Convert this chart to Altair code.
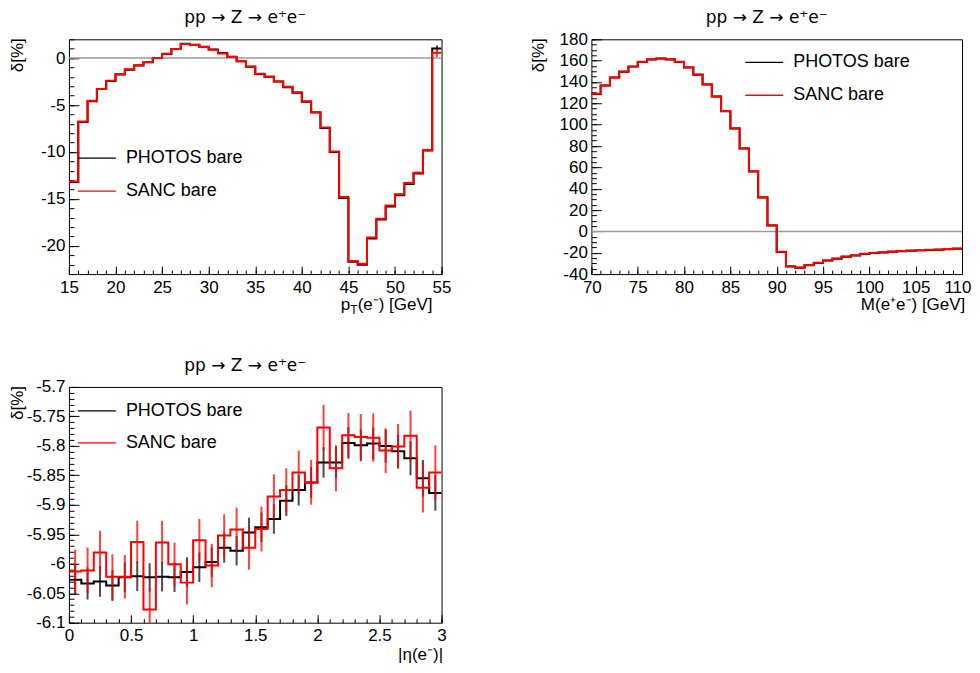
import altair as alt
import pandas as pd

FONT = "Liberation Sans"

# ---------------- data ----------------
# p_T(e-) panel: 40 bins of 1 GeV from 15 to 55
pt_lo, pt_w = 15.0, 1.0
pt_photos = [-13.2, -6.8, -4.6, -3.3, -2.45, -1.75, -1.25, -0.8, -0.45, 0.0,
             0.43, 0.96, 1.52, 1.42, 1.2, 0.92, 0.53, 0.14, -0.35, -0.92,
             -1.7, -2.0, -2.5, -3.1, -3.7, -4.65, -5.8, -7.45, -10.0, -14.9,
             -21.7, -22.0, -19.2, -17.2, -15.8, -14.6, -13.4, -12.3, -9.85, 1.03]
pt_sanc = [-13.15, -6.75, -4.55, -3.3, -2.4, -1.7, -1.2, -0.75, -0.42, 0.02,
           0.45, 0.98, 1.5, 1.4, 1.18, 0.9, 0.5, 0.12, -0.33, -0.9,
           -1.68, -1.98, -2.48, -3.05, -3.65, -4.6, -5.75, -7.4, -9.95, -14.8,
           -21.6, -21.9, -19.1, -17.1, -15.7, -14.5, -13.3, -12.2, -9.8, 0.57]
pt_photos_err = [0] * 39 + [0.3]
pt_sanc_err = [0] * 35 + [0.1, 0.12, 0.14, 0.18, 0.45]

# M(e+e-) panel: 40 bins of 1 GeV from 70 to 110
m_lo, m_w = 70.0, 1.0
m_photos = [128.8, 136.6, 144.1, 149.7, 154.4, 158.8, 161.0, 161.9, 161.0, 158.8,
            153.5, 146.9, 137.6, 126.3, 112.6, 96.4, 77.7, 56.1, 31.8, 5.6,
            -19.3, -32.8, -34.0, -31.8, -29.6, -27.4, -25.6, -23.7, -22.5, -21.2,
            -20.3, -19.7, -19.0, -18.7, -18.1, -17.8, -17.5, -17.2, -16.8, -16.2]
m_sanc = [129.0, 136.8, 144.3, 149.9, 154.6, 159.0, 161.2, 162.1, 161.2, 159.0,
          153.7, 147.1, 137.8, 126.5, 112.8, 96.6, 77.9, 56.3, 32.0, 5.8,
          -19.1, -32.6, -33.8, -31.6, -29.4, -27.2, -25.4, -23.5, -22.3, -21.0,
          -20.1, -19.5, -18.8, -18.5, -17.9, -17.6, -17.3, -17.0, -16.6, -16.0]

# |eta(e-)| panel: 30 bins of 0.1 from 0 to 3
eta_lo, eta_w = 0.0, 0.1
eta_photos = [-6.027, -6.0335, -6.030, -6.037, -6.023, -6.021, -6.023, -6.022, -6.023, -6.014,
              -6.006, -5.997, -5.973, -5.978, -5.947, -5.938, -5.924, -5.893, -5.875, -5.862,
              -5.828, -5.828, -5.795, -5.799, -5.796, -5.800, -5.809, -5.821, -5.855, -5.880]
eta_sanc = [-6.013, -6.0115, -5.981, -6.022, -6.022, -5.963, -6.0775, -5.964, -6.001, -6.032,
            -5.960, -6.003, -5.952, -5.942, -5.973, -5.941, -5.886, -5.875, -5.845, -5.862,
            -5.769, -5.838, -5.782, -5.785, -5.786, -5.808, -5.801, -5.783, -5.871, -5.845]
eta_photos_err = [0.026, 0.027, 0.026, 0.026, 0.025, 0.025, 0.024, 0.025, 0.025, 0.025,
                  0.025, 0.025, 0.025, 0.025, 0.025, 0.025, 0.025, 0.026, 0.026, 0.026,
                  0.026, 0.027, 0.027, 0.027, 0.027, 0.028, 0.028, 0.029, 0.031, 0.030]
eta_sanc_err = [0.037, 0.039, 0.037, 0.038, 0.037, 0.036, 0.037, 0.037, 0.037, 0.037,
                0.036, 0.037, 0.036, 0.037, 0.037, 0.038, 0.038, 0.037, 0.037, 0.038,
                0.039, 0.039, 0.038, 0.039, 0.041, 0.038, 0.038, 0.043, 0.042, 0.046]

series_names = ["PHOTOS bare", "SANC bare"]
series_colors = ["black", "red"]
title_text = "pp → Z → e⁺e⁻"
ytitle_text = "δ[%]"

# axis ticks / labels
pt_xmaj = [15, 20, 25, 30, 35, 40, 45, 50, 55]
pt_xmin = list(range(15, 56))
pt_ymaj = [0, -5, -10, -15, -20]
pt_ymin = list(range(-23, 3))
m_xmaj = [70, 75, 80, 85, 90, 95, 100, 105, 110]
m_xmin = list(range(70, 111))
m_ymaj = list(range(-40, 181, 20))
m_ymin = list(range(-40, 181, 5))
eta_xmaj = [0, 0.5, 1, 1.5, 2, 2.5, 3]
eta_xmin = [round(0.1 * i, 2) for i in range(31)]
eta_ymaj = [-6.1, -6.05, -6.0, -5.95, -5.9, -5.85, -5.8, -5.75, -5.7]
eta_ymin = [round(-6.1 + 0.01 * i, 3) for i in range(41)]


def hist_df(lo, w, vals):
    xs = [lo + i * w for i in range(len(vals) + 1)]
    ys = list(vals) + [vals[-1]]
    return pd.DataFrame({"x": xs, "y": ys})


def err_df(lo, w, vals, errs):
    rows = [{"x": lo + (i + 0.5) * w, "lo": v - e, "hi": v + e}
            for i, (v, e) in enumerate(zip(vals, errs)) if e > 0]
    return pd.DataFrame(rows, columns=["x", "lo", "hi"])


def panel(W, H, lo, w, photos, sanc, perr, serr, xdom, ydom,
          xmaj, xmin, ymaj, ymin, zero, leg, xtitle, ytitle_x, xflush=None):
    xs = alt.Scale(domain=xdom, nice=False, zero=False)
    ys = alt.Scale(domain=ydom, nice=False, zero=False)
    hp = hist_df(lo, w, photos)
    hs = hist_df(lo, w, sanc)
    layers = []

    # inward minor ticks
    layers.append(alt.Chart(hp).mark_point(opacity=0).encode(
        x=alt.X("x:Q", scale=xs, axis=alt.Axis(
            orient="top", offset=-H, values=xmin, labels=False, domain=False,
            grid=False, title=None, tickSize=4, tickColor="black", tickWidth=1)),
        y=alt.Y("y:Q", scale=ys, axis=alt.Axis(
            orient="right", offset=-W, values=ymin, labels=False, domain=False,
            grid=False, title=None, tickSize=5, tickColor="black", tickWidth=1)),
    ))
    # inward major ticks
    layers.append(alt.Chart(hp).mark_point(opacity=0).encode(
        x=alt.X("x:Q", scale=xs, axis=alt.Axis(
            orient="top", offset=-H, values=xmaj, labels=False, domain=False,
            grid=False, title=None, tickSize=8, tickColor="black", tickWidth=1)),
        y=alt.Y("y:Q", scale=ys, axis=alt.Axis(
            orient="right", offset=-W, values=ymaj, labels=False, domain=False,
            grid=False, title=None, tickSize=10, tickColor="black", tickWidth=1)),
    ))

    if zero:
        layers.append(alt.Chart(pd.DataFrame({"y": [0]})).mark_rule(
            color="#9a9a9a", strokeWidth=1.5).encode(
            y=alt.Y("y:Q", scale=ys, axis=None)))

    # PHOTOS histogram (carries the labelled axes)
    if xflush is None:
        flush_kw = dict(labelFlush=False)
    else:
        flush_kw = dict(labelFlush=True, labelFlushOffset=xflush)
    layers.append(alt.Chart(hp).mark_line(
        interpolate="step-after", color=series_colors[0], strokeWidth=2, clip=True).encode(
        x=alt.X("x:Q", scale=xs, axis=alt.Axis(
            orient="bottom", values=xmaj, ticks=False, tickSize=0, domain=False,
            grid=False, title=None, labelPadding=5,
            labelOverlap=False, labelExpr="toString(datum.value)", **flush_kw)),
        y=alt.Y("y:Q", scale=ys, axis=alt.Axis(
            orient="left", values=ymaj, ticks=False, tickSize=0, domain=False,
            grid=False, title=None, labelPadding=4, labelFlush=False,
            labelOverlap=False, labelExpr="toString(datum.value)")),
    ))
    ep = err_df(lo, w, photos, perr)
    if len(ep):
        layers.append(alt.Chart(ep).mark_rule(
            color=series_colors[0], strokeWidth=2, opacity=0.7, clip=True).encode(
            x=alt.X("x:Q", scale=xs, axis=None),
            y=alt.Y("lo:Q", scale=ys, axis=None), y2="hi:Q"))

    layers.append(alt.Chart(hs).mark_line(
        interpolate="step-after", color=series_colors[1], strokeWidth=2, clip=True).encode(
        x=alt.X("x:Q", scale=xs, axis=None),
        y=alt.Y("y:Q", scale=ys, axis=None)))
    es = err_df(lo, w, sanc, serr)
    if len(es):
        layers.append(alt.Chart(es).mark_rule(
            color=series_colors[1], strokeWidth=2, opacity=0.75, clip=True).encode(
            x=alt.X("x:Q", scale=xs, axis=None),
            y=alt.Y("lo:Q", scale=ys, axis=None), y2="hi:Q"))

    # legend
    lx0, lx1, tx, ly, dy = leg
    dummy = pd.DataFrame({"a": [0]})
    for i, (name, col) in enumerate(zip(series_names, series_colors)):
        layers.append(alt.Chart(dummy).mark_rule(color=col, strokeWidth=1.3).encode(
            x=alt.value(lx0), x2=alt.value(lx1), y=alt.value(ly + i * dy)))
        layers.append(alt.Chart(dummy).mark_text(
            align="left", baseline="middle", fontSize=18, color="black").encode(
            x=alt.value(tx), y=alt.value(ly + i * dy), text=alt.value(name)))

    # panel title
    layers.append(alt.Chart(dummy).mark_text(
        align="center", baseline="alphabetic", fontSize=17, font="DejaVu Sans",
        color="black").encode(
        x=alt.value(W / 2 - 10), y=alt.value(-16), text=alt.value(title_text)))
    # y title
    layers.append(alt.Chart(dummy).mark_text(
        align="right", baseline="middle", angle=270, fontSize=17, color="black").encode(
        x=alt.value(ytitle_x), y=alt.value(-1), text=alt.value(ytitle_text)))
    # x title pieces
    for (txt, xx, yy, fs, al) in xtitle:
        layers.append(alt.Chart(dummy).mark_text(
            align=al, baseline="alphabetic", fontSize=fs, color="black").encode(
            x=alt.value(xx), y=alt.value(H + yy), text=alt.value(txt)))

    return alt.layer(*layers).properties(width=W, height=H)


p1 = panel(373, 235, pt_lo, pt_w, pt_photos, pt_sanc, pt_photos_err, pt_sanc_err,
           [15, 55], [-23, 2], pt_xmaj, pt_xmin, pt_ymaj, pt_ymin, True,
           (9, 47, 57, 119, 33),
           [("p", 272, 36, 17, "left"), ("T", 281.5, 40, 12, "left"),
            ("(e⁻) [GeV]", 289, 36, 17, "left")], -51)
p2 = panel(371, 235, m_lo, m_w, m_photos, m_sanc, [0] * 40, [0] * 40,
           [70, 110], [-40, 180], m_xmaj, m_xmin, m_ymaj, m_ymin, True,
           (154, 192, 202, 23, 33),
           [("M(e⁺e⁻) [GeV]", 322, 36, 17, "center")], -52, xflush=9)
p3 = panel(373, 236, eta_lo, eta_w, eta_photos, eta_sanc, eta_photos_err, eta_sanc_err,
           [0, 3], [-6.1, -5.7], eta_xmaj, eta_xmin, eta_ymaj, eta_ymin, False,
           (9, 47, 57, 24, 32),
           [("|η(e⁻)|", 352, 37, 17, "center")], -51)

chart = alt.concat(p1, p2, p3, columns=2, spacing={"row": 113, "column": 150},
                   bounds="flush").properties(
    padding={"left": 0, "top": 0, "right": 0, "bottom": 0}
).configure(font=FONT).configure_view(
    stroke="black", strokeWidth=1
).configure_axis(
    labelFont=FONT, labelFontSize=17, labelColor="black"
)

chart.save("out.html", embed_options={"renderer": "svg", "actions": False})
